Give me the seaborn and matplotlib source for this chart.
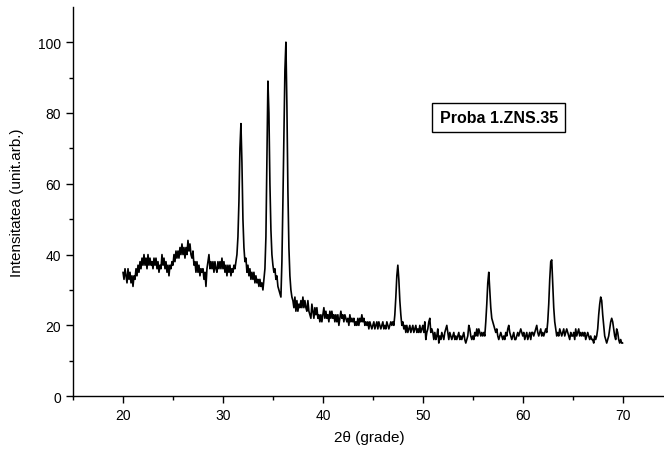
import numpy as np
import pandas as pd
import matplotlib
matplotlib.use("Agg")
import matplotlib.pyplot as plt
import seaborn as sns

# 2-theta sampling grid (degrees), start and step of the scan
theta_start = 20.0
theta_step = 0.1

# intensity (arb. units), one row per degree: 20.0..20.9, 21.0..21.9, ...
i20 = [35, 33, 36, 34, 32, 36, 33, 35, 32, 34]
i21 = [31, 34, 33, 36, 34, 37, 35, 38, 36, 39]
i22 = [37, 40, 37, 39, 36, 40, 37, 39, 37, 38]
i23 = [36, 39, 37, 39, 36, 38, 35, 37, 36, 40]
i24 = [37, 39, 36, 38, 35, 37, 34, 37, 36, 38]
i25 = [37, 40, 38, 41, 39, 41, 39, 42, 40, 43]
i26 = [40, 42, 39, 42, 40, 44, 41, 43, 40, 39]
i27 = [41, 37, 38, 35, 38, 35, 37, 34, 36, 35]
i28 = [36, 33, 35, 31, 36, 38, 40, 36, 38, 36]
i29 = [38, 35, 38, 36, 35, 38, 36, 38, 36, 39]
i30 = [36, 38, 35, 37, 34, 37, 35, 37, 34, 36]
i31 = [35, 37, 36, 38, 40, 45, 55, 70, 77, 66]
i32 = [50, 42, 38, 39, 35, 37, 34, 36, 33, 35]
i33 = [33, 35, 32, 34, 32, 33, 31, 33, 31, 32]
i34 = [30, 33, 36, 45, 68, 89, 80, 60, 47, 40]
i35 = [37, 35, 36, 33, 34, 31, 30, 29, 28, 38]
i36 = [55, 74, 92, 100, 82, 58, 42, 34, 30, 28]
i37 = [27, 25, 28, 24, 27, 24, 26, 25, 27, 25]
i38 = [28, 25, 27, 25, 24, 27, 24, 23, 22, 26]
i39 = [24, 22, 25, 23, 25, 22, 23, 21, 23, 21]
i40 = [23, 25, 22, 24, 22, 23, 21, 24, 22, 24]
i41 = [22, 23, 21, 23, 21, 23, 20, 22, 24, 22]
i42 = [23, 21, 23, 22, 21, 22, 20, 23, 21, 22]
i43 = [21, 22, 20, 21, 20, 22, 20, 22, 21, 23]
i44 = [21, 22, 20, 21, 20, 21, 19, 21, 20, 19]
i45 = [20, 21, 19, 20, 21, 19, 21, 20, 19, 20]
i46 = [21, 19, 20, 19, 21, 20, 19, 20, 21, 20]
i47 = [21, 20, 23, 28, 34, 37, 33, 27, 23, 20]
i48 = [21, 19, 20, 18, 20, 18, 19, 20, 18, 19]
i49 = [20, 18, 19, 20, 18, 19, 18, 20, 18, 19]
i50 = [20, 18, 21, 16, 18, 19, 21, 22, 18, 19]
i51 = [18, 16, 18, 16, 17, 19, 15, 17, 16, 18]
i52 = [17, 16, 18, 19, 20, 18, 16, 18, 17, 16]
i53 = [17, 18, 16, 17, 16, 17, 18, 16, 17, 16]
i54 = [17, 18, 16, 15, 16, 17, 20, 19, 17, 16]
i55 = [17, 16, 18, 17, 19, 17, 19, 18, 17, 18]
i56 = [17, 18, 17, 21, 26, 32, 35, 30, 25, 22]
i57 = [21, 20, 19, 18, 19, 17, 16, 17, 18, 17]
i58 = [16, 17, 16, 18, 17, 19, 20, 18, 17, 16]
i59 = [17, 18, 16, 16, 17, 18, 17, 18, 19, 18]
i60 = [17, 18, 16, 17, 18, 16, 17, 18, 16, 18]
i61 = [18, 17, 18, 19, 20, 18, 17, 18, 19, 17]
i62 = [18, 17, 18, 19, 18, 21, 26, 33, 38, 38.5]
i63 = [32, 25, 21, 19, 17, 18, 17, 19, 18, 17]
i64 = [18, 19, 17, 18, 19, 18, 17, 16, 18, 17]
i65 = [17, 18, 16, 19, 17, 18, 19, 17, 18, 17]
i66 = [18, 17, 18, 16, 17, 18, 17, 16, 17, 16]
i67 = [16, 15, 17, 16, 17, 19, 23, 26, 28, 27]
i68 = [23, 20, 17, 16, 15, 16, 17, 19, 21, 22]
i69 = [21, 19, 17, 16, 19, 18, 16, 15, 16, 15]
i70 = [15]

rows = [i20, i21, i22, i23, i24, i25, i26, i27, i28, i29, i30, i31, i32, i33,
        i34, i35, i36, i37, i38, i39, i40, i41, i42, i43, i44, i45, i46, i47,
        i48, i49, i50, i51, i52, i53, i54, i55, i56, i57, i58, i59, i60, i61,
        i62, i63, i64, i65, i66, i67, i68, i69, i70]
intensity = [v for r in rows for v in r]
two_theta = np.round(theta_start + theta_step * np.arange(len(intensity)), 2)

sample_label = "Proba 1.ZNS.35"
x_ticks = [20, 30, 40, 50, 60, 70]
y_ticks = [0, 20, 40, 60, 80, 100]

df = pd.DataFrame({"two_theta": two_theta, "intensity": intensity})

sns.set_style("ticks")
plt.rcParams["font.family"] = ["Liberation Sans", "DejaVu Sans"]
plt.rcParams["text.color"] = "black"
plt.rcParams["axes.labelcolor"] = "black"
plt.rcParams["xtick.color"] = "black"
plt.rcParams["ytick.color"] = "black"

fig = plt.figure(figsize=(6.64, 4.56), dpi=100)
ax = fig.add_axes([0.110, 0.129, 0.891, 0.854])

sns.lineplot(data=df, x="two_theta", y="intensity", ax=ax, color="black",
             linewidth=1.2, sort=False)

ax.set_xlim(15, 74.2)
ax.set_ylim(0, 110)
ax.set_xticks(x_ticks)
ax.set_yticks(y_ticks)
ax.set_xticks(np.arange(15, 75, 10), minor=True)
ax.set_yticks(np.arange(10, 110, 20), minor=True)
ax.tick_params(axis="both", which="major", direction="out", length=5,
               width=1, labelsize=10, colors="black")
ax.tick_params(axis="both", which="minor", direction="out", length=3, width=1,
               colors="black")

for s in ["top", "right"]:
    ax.spines[s].set_visible(False)
for s in ["left", "bottom"]:
    ax.spines[s].set_color("black")
    ax.spines[s].set_linewidth(1.0)

ax.set_xlabel("2θ (grade)", fontsize=11, labelpad=6, color="black")
ax.set_ylabel("Intensitatea (unit.arb.)", fontsize=11, labelpad=10,
              color="black")

ax.text(57.6, 78.8, sample_label, fontsize=11.5, fontweight="bold",
        ha="center", va="center", color="black",
        bbox=dict(boxstyle="square,pad=0.45", facecolor="white",
                  edgecolor="black", linewidth=1.0))

fig.savefig("out.png", dpi=100)
